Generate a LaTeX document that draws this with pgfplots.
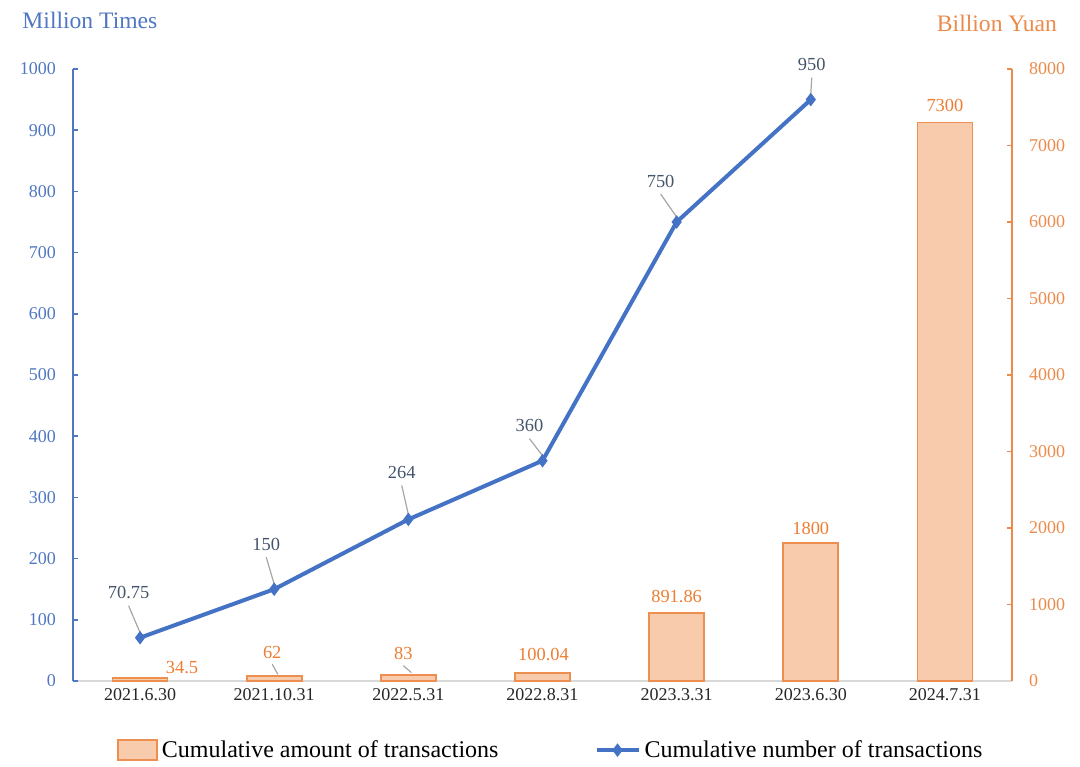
\documentclass[border=0pt]{standalone}
\usepackage{fontspec}
\setmainfont{Liberation Serif}
\usepackage{pgfplots}
\usepackage{pgfplotstable}
\pgfplotsset{compat=1.18}
\usetikzlibrary{calc}

\definecolor{LineBlue}{HTML}{4472C4}
\definecolor{AxBlue}{HTML}{4F77C2}
\definecolor{AxOrange}{HTML}{EB8A4A}
\definecolor{BarFill}{HTML}{F8CBAD}
\definecolor{BarEdge}{HTML}{EE8F52}
\definecolor{LblBlue}{HTML}{44546A}
\definecolor{LblOrange}{HTML}{ED7D31}
\definecolor{LeadGray}{HTML}{A6A6A6}

% cumulative amount (billion yuan), right axis
\pgfplotstableread{
x amount
0 34.5
1 62
2 83
3 100.04
4 891.86
5 1800
6 7300
}\amounttab

% cumulative number (million times), left axis
\pgfplotstableread{
x number
0 70.75
1 150
2 264
3 360
4 750
5 950
}\numbertab

\newcommand\tickfont{\fontsize{9}{9}\selectfont}
\newcommand\lblfont{\fontsize{9.2}{9.2}\selectfont}

% label with leader line: x, y, dx, dy (pt), text
\newcommand\lineLabel[5]{%
  \draw[LeadGray, line width=0.6pt] ($(axis cs:#1,#2)+({(#3)*1pt},{(#4-6.5)*1pt})$) -- ($(axis cs:#1,#2)+(0pt,2.5pt)$);
  \node[LblBlue, font=\lblfont, inner sep=0pt] at ($(axis cs:#1,#2)+({(#3)*1pt},{(#4)*1pt})$) {#5};
}
\newcommand\barLabelLead[5]{%
  \draw[LeadGray, line width=0.6pt] ($(axis cs:#1,#2)+({(#3)*1pt},{(#4-6)*1pt})$) -- ($(axis cs:#1,#2)+({(#3)*0.2pt+2pt},1pt)$);
  \node[LblOrange, font=\lblfont, inner sep=0pt] at ($(axis cs:#1,#2)+({(#3)*1pt},{(#4)*1pt})$) {#5};
}
\newcommand\barLabel[5]{%
  \node[LblOrange, font=\lblfont, inner sep=0pt] at ($(axis cs:#1,#2)+({(#3)*1pt},{(#4)*1pt})$) {#5};
}

\pgfplotsset{
  basestyle/.style={
    scale only axis, width=469.5pt, height=306pt,
    at={(0,0)}, anchor=south west,
    xmin=-0.5, xmax=6.5, ymin=0,
    /pgf/number format/assume math mode=true,
    /pgf/number format/1000 sep={},
    scaled y ticks=false,
    tick align=inside, major tick length=2.5pt,
    clip=false,
  },
  barlegend/.style={legend image code/.code={\draw[fill=BarFill, draw=BarEdge, line width=0.8pt] (0pt,-5pt) rectangle (19.5pt,5pt);}},
  linelegend/.style={legend image code/.code={%
    \draw[##1, mark=none] (0pt,0pt) -- (21pt,0pt);
    \draw[##1, only marks] plot coordinates {(10.5pt,0pt)};}},
}

\begin{document}
\begin{tikzpicture}
\path[use as bounding box] (-36.5pt,-42.5pt) rectangle (503.5pt,340.5pt);

% bars: amount on the right axis
\begin{axis}[
  basestyle,
  ymax=8000,
  axis y line*=right,
  axis x line*=bottom,
  x axis line style={draw=black!15, line width=0.8pt},
  y axis line style={draw=AxOrange, line width=0.8pt},
  ytick={0,1000,...,8000},
  yticklabel style={text=AxOrange, font=\tickfont, xshift=5pt},
  ytick style={draw=AxOrange, line width=0.8pt},
  xtick={0,...,6},
  xticklabels={2021.6.30,2021.10.31,2022.5.31,2022.8.31,2023.3.31,2023.6.30,2024.7.31},
  xticklabel style={text=black!85, font=\tickfont},
  xtick style={draw=none},
]
\addplot[ybar, bar width=27.5pt, bar shift=0pt, fill=BarFill, draw=BarEdge, line width=0.9pt]
  table[x=x, y=amount]{\amounttab};

\barLabel{0}{34.5}{21}{5.5}{34.5}
\barLabelLead{1}{62}{-1}{12}{62}
\barLabelLead{2}{83}{-2.5}{10.5}{83}
\barLabel{3}{100.04}{0.5}{9.5}{100.04}
\barLabel{4}{891.86}{0}{8}{891.86}
\barLabel{5}{1800}{0}{7.5}{1800}
\barLabel{6}{7300}{0}{8.5}{7300}

\node[text=AxOrange, font=\fontsize{11.8}{12}\selectfont] at (rel axis cs:0.984,1.075) {Billion Yuan};
\end{axis}

% line: number on the left axis
\begin{axis}[
  basestyle,
  ymax=1000,
  axis y line*=left,
  axis x line=none,
  y axis line style={draw=AxBlue, line width=0.8pt},
  ytick={0,100,...,1000},
  yticklabel style={text=AxBlue, font=\tickfont, xshift=-5pt},
  ytick style={draw=AxBlue, line width=0.8pt},
  xtick=\empty,
  legend style={at={(rel axis cs:0.51,-0.113)}, anchor=center, draw=none, fill=none,
    font=\fontsize{12}{12}\selectfont, legend columns=2,
    inner sep=0pt,
    /tikz/every even column/.append style={column sep=46pt},
    /tikz/every odd column/.append style={column sep=0pt}},
  legend cell align=left,
]
\addlegendimage{barlegend}
\addlegendentry{Cumulative amount of transactions}

\addplot[LineBlue, line width=2pt, mark=diamond*, mark size=3pt, mark options={solid, line width=0.5pt}, linelegend]
  table[x=x, y=number]{\numbertab};
\addlegendentry{Cumulative number of transactions}

\lineLabel{0}{70.75}{-5.75}{22.5}{70.75}
\lineLabel{1}{150}{-4}{22.5}{150}
\lineLabel{2}{264}{-3.3}{23.5}{264}
\lineLabel{3}{360}{-6.5}{17.5}{360}
\lineLabel{4}{750}{-8}{20.5}{750}
\lineLabel{5}{950}{0.5}{17.5}{950}

\node[text=AxBlue, font=\fontsize{11.8}{12}\selectfont] at (rel axis cs:0.018,1.08) {Million Times};
\end{axis}
\end{tikzpicture}
\end{document}
